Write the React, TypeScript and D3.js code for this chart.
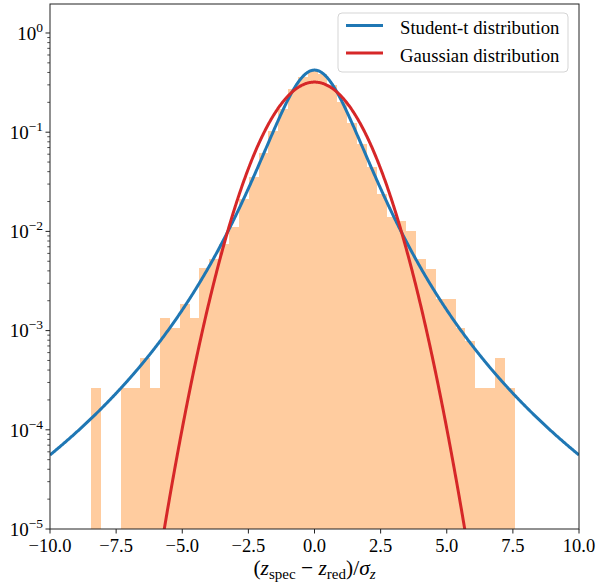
import React from 'react';
import * as d3 from 'd3';

// Histogram: uniform bins starting at binStart with width binWidth; densities
const binStart = -8.447;
const binWidth = 0.3724;
const densities = [
  2.66e-4, 0, 0, 2.66e-4, 2.66e-4, 5.3e-4, 2.66e-4, 1.33e-3, 1.06e-3, 1.86e-3,
  1.33e-3, 4.26e-3, 5.3e-3, 7.4e-3, 1.12e-2, 2.1e-2, 3.5e-2, 6.2e-2, 0.103, 0.17,
  0.27, 0.36, 0.41, 0.39, 0.30, 0.20, 0.125, 0.076, 0.045, 0.024,
  0.0139, 0.0126, 0.0100, 5.3e-3, 4.2e-3, 2.1e-3, 2.1e-3, 1.06e-3, 7.9e-4, 2.66e-4,
  2.66e-4, 5.3e-4, 2.66e-4,
];

// fitted distribution parameters
const tDf = 4.2;
const tLoc = 0.0;
const tScale = 0.89;
const gMu = 0.0;
const gSigma = 1.247;

const xTicks = [-10, -7.5, -5, -2.5, 0, 2.5, 5, 7.5, 10];
const yExponents = [-5, -4, -3, -2, -1, 0];
const legendLabels = ['Student-t distribution', 'Gaussian distribution'];
const legendColors = ['#1f77b4', '#d62728'];

const W = 598;
const H = 585;
const M = { left: 50, right: 579, top: 4, bottom: 529 };
const FONT = '"Liberation Serif", "Times New Roman", serif';

function lgamma(z: number): number {
  const g = 7;
  const c = [0.99999999999980993, 676.5203681218851, -1259.1392167224028, 771.32342877765313,
    -176.61502916214059, 12.507343278686905, -0.13857109526572012, 9.9843695780195716e-6,
    1.5056327351493116e-7];
  if (z < 0.5) return Math.log(Math.PI / Math.abs(Math.sin(Math.PI * z))) - lgamma(1 - z);
  z -= 1;
  let x = c[0];
  for (let i = 1; i < g + 2; i++) x += c[i] / (z + i);
  const t = z + g + 0.5;
  return 0.5 * Math.log(2 * Math.PI) + (z + 0.5) * Math.log(t) - t + Math.log(x);
}

function tPdf(x: number): number {
  const v = tDf;
  const u = (x - tLoc) / tScale;
  const lc = lgamma((v + 1) / 2) - lgamma(v / 2) - 0.5 * Math.log(v * Math.PI);
  return Math.exp(lc - ((v + 1) / 2) * Math.log(1 + (u * u) / v)) / tScale;
}

function gPdf(x: number): number {
  const u = (x - gMu) / gSigma;
  return Math.exp(-0.5 * u * u) / (gSigma * Math.sqrt(2 * Math.PI));
}

export default function App() {
  const x = d3.scaleLinear().domain([-10, 10]).range([M.left, M.right]);
  const y = d3.scaleLog().domain([1e-5, 1.96]).range([M.bottom, M.top]);

  const grid = d3.range(-10, 10.0001, 0.02);
  const line = d3
    .line<[number, number]>()
    .x((d) => x(d[0]))
    .y((d) => y(Math.max(d[1], 1e-7)));
  const tPath = line(grid.map((g) => [g, tPdf(g)]));
  const gPath = line(grid.map((g) => [g, gPdf(g)]));

  const minorTicks: number[] = [];
  yExponents.forEach((e) => {
    for (let m = 2; m <= 9; m++) {
      const v = m * Math.pow(10, e);
      if (v <= 1.96) minorTicks.push(v);
    }
  });

  const fmt = (v: number) => (v < 0 ? '\u2212' : '') + Math.abs(v).toFixed(1);

  const legX = 338;
  const legY = 13;
  return (
    <svg width={W} height={H} style={{ position: 'absolute', left: 0, top: 0, background: '#fff' }}
      fontFamily={FONT}>
      <defs>
        <clipPath id="plotclip">
          <rect x={M.left} y={M.top} width={M.right - M.left} height={M.bottom - M.top} />
        </clipPath>
      </defs>
      <g clipPath="url(#plotclip)">
        {densities.map((d, i) =>
          d > 0 ? (
            <rect key={i}
              x={x(binStart + i * binWidth)}
              width={x(binStart + (i + 1) * binWidth) - x(binStart + i * binWidth)}
              y={y(d)}
              height={M.bottom - y(d) + 2}
              fill="#ff7f0e" fillOpacity={0.4} shapeRendering="crispEdges" />
          ) : null
        )}
        <path d={tPath || ''} fill="none" stroke={legendColors[0]} strokeWidth={3} />
        <path d={gPath || ''} fill="none" stroke={legendColors[1]} strokeWidth={3} />
      </g>
      {/* frame */}
      <rect x={M.left} y={M.top} width={M.right - M.left} height={M.bottom - M.top}
        fill="none" stroke="#222" strokeWidth={1} />
      {/* x ticks */}
      {xTicks.map((t) => (
        <g key={t}>
          <line x1={x(t)} x2={x(t)} y1={M.bottom} y2={M.bottom + 4.5} stroke="#222" />
          <text x={x(t)} y={M.bottom + 22.5} textAnchor="middle" fontSize={18.5} fill="#000">{fmt(t)}</text>
        </g>
      ))}
      {/* y ticks */}
      {yExponents.map((e) => (
        <g key={e}>
          <line x1={M.left - 4.5} x2={M.left} y1={y(Math.pow(10, e))} y2={y(Math.pow(10, e))} stroke="#222" />
          <text x={43} y={y(Math.pow(10, e)) + 6.8} textAnchor="end" fontSize={19} fill="#000">
            10<tspan dy={-8} fontSize={13.5}>{e < 0 ? '\u2212' + Math.abs(e) : String(e)}</tspan>
          </text>
        </g>
      ))}
      {minorTicks.map((v, i) => (
        <line key={i} x1={M.left - 2.7} x2={M.left} y1={y(v)} y2={y(v)} stroke="#222" strokeWidth={0.8} />
      ))}
      {/* x label */}
      <text x={(M.left + M.right) / 2} y={575} textAnchor="middle" fontSize={21.5} fill="#000">
        (<tspan fontStyle="italic">z</tspan>
        <tspan fontSize={15} dy={4}>spec</tspan>
        <tspan dy={-4}>{' \u2212 '}</tspan>
        <tspan fontStyle="italic">z</tspan>
        <tspan fontSize={15} dy={4}>red</tspan>
        <tspan dy={-4}>)/</tspan>
        <tspan fontStyle="italic">σ</tspan>
        <tspan fontSize={15} fontStyle="italic" dy={4}>z</tspan>
      </text>
      {/* legend */}
      <rect x={legX} y={legY} width={568 - legX} height={59} rx={4} ry={4}
        fill="#fff" fillOpacity={0.8} stroke="#d5d5d5" strokeWidth={1} />
      {legendLabels.map((lab, i) => (
        <g key={lab}>
          <line x1={legX + 8} x2={383} y1={25.5 + i * 27.5} y2={25.5 + i * 27.5}
            stroke={legendColors[i]} strokeWidth={3} />
          <text x={400} y={34.3 + i * 27.2} fontSize={18.7} fill="#000">{lab}</text>
        </g>
      ))}
    </svg>
  );
}
